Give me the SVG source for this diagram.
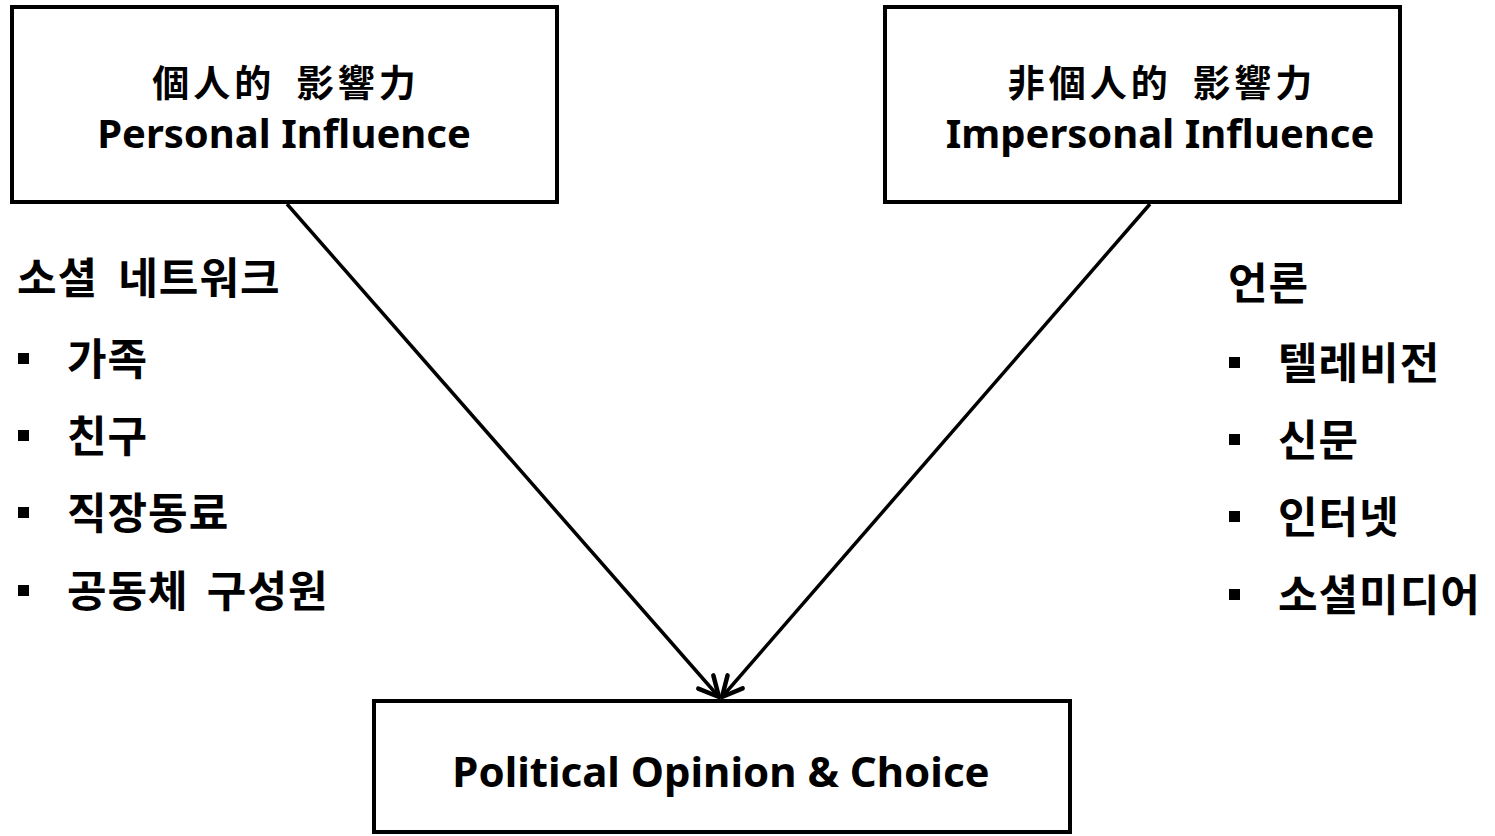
<svg xmlns="http://www.w3.org/2000/svg" width="1495" height="836" viewBox="0 0 1495 836">
<defs>
<style>
.box{fill:#fff;stroke:#000;stroke-width:4}
.t{font-family:"Noto Sans","Noto Sans CJK KR",sans-serif;font-weight:bold;fill:#000}
.h{font-size:40px;text-anchor:middle}
.hc{font-size:37px;text-anchor:middle;letter-spacing:4px;word-spacing:8px}
.l{font-size:43px;letter-spacing:1px}
.b{fill:#000}
.conn{stroke:#000;stroke-width:3.5;fill:none}
</style>
<marker id="arr" markerUnits="userSpaceOnUse" markerWidth="50" markerHeight="50" viewBox="-25 -25 50 50" refX="0" refY="0" orient="auto">
<path d="M-20,-10 L0,0 L-20,10" fill="none" stroke="#000" stroke-width="4.5" stroke-linecap="round" stroke-linejoin="round"/>
</marker>
</defs>
<rect width="1495" height="836" fill="#fff"/>
<g id="connectors">
<line class="conn" x1="287" y1="204" x2="719" y2="697" marker-end="url(#arr)"/>
<line class="conn" x1="1150" y1="204" x2="722" y2="697" marker-end="url(#arr)"/>
</g>
<g id="personal">
<rect class="box" x="12" y="7" width="545" height="195"/>
<text class="t hc" x="286" y="97">個人的 影響力</text>
<text class="t h" x="284" y="148">Personal Influence</text>
</g>
<g id="impersonal">
<rect class="box" x="885" y="7" width="515" height="195"/>
<text class="t hc" x="1162" y="97">非個人的 影響力</text>
<text class="t h" x="1160" y="148">Impersonal Influence</text>
</g>
<g id="outcome">
<rect class="box" x="374" y="701" width="696" height="131"/>
<text class="t h" x="721" y="787" style="font-size:42px">Political Opinion &amp; Choice</text>
</g>
<g id="social-network">
<text class="t l" x="17" y="294" style="word-spacing:8px">소셜 네트워크</text>
<rect class="b" x="18" y="353" width="11" height="11"/>
<text class="t l" x="67" y="375">가족</text>
<rect class="b" x="18" y="430" width="11" height="11"/>
<text class="t l" x="67" y="452">친구</text>
<rect class="b" x="18" y="507" width="11" height="11"/>
<text class="t l" x="67" y="529">직장동료</text>
<rect class="b" x="18" y="585" width="11" height="11"/>
<text class="t l" x="67" y="607" style="word-spacing:6px">공동체 구성원</text>
</g>
<g id="media">
<text class="t l" x="1228" y="299">언론</text>
<rect class="b" x="1229" y="357" width="11" height="11"/>
<text class="t l" x="1278" y="379">텔레비전</text>
<rect class="b" x="1229" y="434" width="11" height="11"/>
<text class="t l" x="1278" y="456">신문</text>
<rect class="b" x="1229" y="511" width="11" height="11"/>
<text class="t l" x="1278" y="533">인터넷</text>
<rect class="b" x="1229" y="589" width="11" height="11"/>
<text class="t l" x="1278" y="611">소셜미디어</text>
</g>
</svg>
